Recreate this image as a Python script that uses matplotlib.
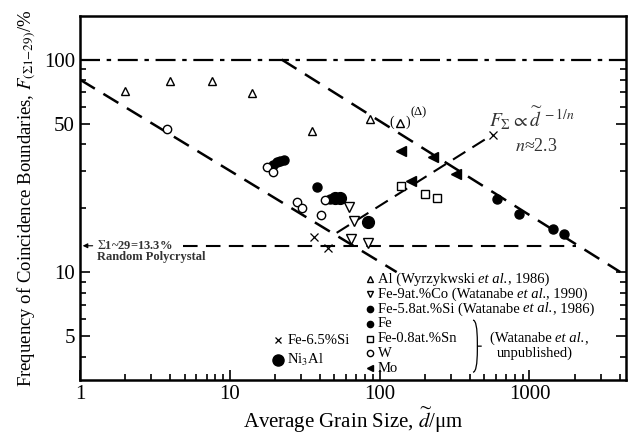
import matplotlib.pyplot as plt
import numpy as np
from matplotlib.path import Path
from matplotlib.patches import PathPatch

plt.rcParams["font.family"] = ["Liberation Serif", "DejaVu Serif"]
plt.rcParams["mathtext.fontset"] = "stix"

# --- data ---
al_x = [2.0, 4.0, 7.6, 14.0, 35.2, 85.8]
al_y = [71.4, 79.6, 79.0, 69.9, 46.2, 52.7]
al_paren = (136, 50.5)

feco_x = [62.1, 67.1, 64.0, 83.2]
feco_y = [20.3, 17.4, 14.3, 13.7]

fe_x = [19.4, 20.6, 21.5, 22.9, 38.0, 46.4, 612, 858, 1445, 1711]
fe_y = [32.0, 33.0, 33.4, 33.7, 25.2, 22.1, 22.1, 18.8, 16.0, 15.1]

ni3al_x = [50.1, 54.1, 83.2]
ni3al_y = [22.3, 22.3, 17.2]

fesn_x = [138, 200, 240]
fesn_y = [25.4, 23.4, 22.3]

w_x = [3.8, 17.6, 19.4, 28.0, 30.2, 40.4, 43.0]
w_y = [47.3, 31.3, 29.6, 21.4, 20.0, 18.6, 21.9]

mo_x = [140, 226, 326, 163]
mo_y = [37.3, 34.8, 29.0, 26.9]

fesi_x = [36.3, 45.0, 567]
fesi_y = [14.6, 13.0, 44.3]

# guide lines (end points)
low_line_x = [1.0, 130]
low_line_y = [80.5, 10.0]
high_line_x = [22.2, 4045]
high_line_y = [100, 10.0]
rise_line_x = [51.7, 567]
rise_line_y = [15.3, 44.3]
random_level = 13.3
random_line_x = [4.86, 2057]

legend_labels = [
    "Al (Wyrzykwski et al., 1986)",
    "Fe-9at.%Co (Watanabe et al., 1990)",
    "Fe-5.8at.%Si (Watanabe et al., 1986)",
    "Fe",
    "Fe-0.8at.%Sn",
    "W",
    "Mo",
]
legend_markers = ["^", "v", "o", "o", "s", "o", "<"]
legend_faces = ["white", "white", "black", "black", "white", "white", "black"]

fig = plt.figure(figsize=(6.29, 4.37), dpi=100)
ax = fig.add_axes([0.127, 0.130, 0.868, 0.833])
ax.set_xscale("log")
ax.set_yscale("log")
ax.set_xlim(1, 4400)
ax.set_ylim(3.1, 160)

dash = (0, (7, 4))
ax.axhline(100, color="black", lw=1.6, ls=(0, (9, 3, 2, 3)))
ax.plot(low_line_x, low_line_y, color="black", lw=1.8, ls=dash)
ax.plot(high_line_x, high_line_y, color="black", lw=1.8, ls=dash)
ax.plot(rise_line_x, rise_line_y, color="black", lw=1.5, ls=dash)
ax.plot(random_line_x, [random_level, random_level], color="black", lw=1.5, ls=dash)
ax.annotate("", xy=(1.0, random_level), xytext=(1.27, random_level),
            arrowprops=dict(arrowstyle="-|>", color="black", lw=0.8, mutation_scale=7))
ax.text(1.30, random_level, r"$\Sigma$1~29=13.3%", fontsize=9, fontweight="bold",
        va="center", ha="left", color="#333333")
ax.text(1.30, 11.8, "Random Polycrystal", fontsize=9, fontweight="bold",
        va="center", ha="left", color="#333333")

mk = dict(color="black", linestyle="none")
ax.plot(al_x, al_y, marker="^", ms=6, mfc="white", mew=1.0, **mk)
ax.plot(*al_paren, marker="^", ms=6, mfc="white", mew=1.0, **mk)
ax.annotate("(", al_paren, xytext=(-6, 0), textcoords="offset points",
            fontsize=10, ha="center", va="center")
ax.annotate(")", al_paren, xytext=(6, 0), textcoords="offset points",
            fontsize=10, ha="center", va="center")
ax.text(162, 53, "(Δ)", fontsize=9, ha="left", va="bottom")
ax.plot(feco_x, feco_y, marker="v", ms=7, mfc="white", mew=1.0, **mk)
ax.plot(fe_x, fe_y, marker="o", ms=6.5, mfc="black", **mk)
ax.plot(ni3al_x, ni3al_y, marker="o", ms=8.5, mfc="black", **mk)
ax.plot(fesn_x, fesn_y, marker="s", ms=6, mfc="white", mew=1.0, **mk)
ax.plot(w_x, w_y, marker="o", ms=6, mfc="white", mew=1.0, **mk)
ax.plot(mo_x, mo_y, marker="<", ms=6.5, mfc="black", **mk)
ax.plot(fesi_x, fesi_y, marker="x", ms=6, mew=0.9, **mk)

ax.text(540, 45.5, r"$F_{\Sigma}\propto\widetilde{d}^{\ -1/n}$", fontsize=14,
        ha="left", va="bottom", color="#333333")
ax.text(800, 39.0, r"$n$≈2.3", fontsize=13, ha="left", va="center", color="#333333")


def row_text(x, y, label, size=10.5):
    # "et al." set in italics, the rest upright
    if " et al." in label:
        head, tail = label.split(" et al.")
        t = ax.text(x, y, head + " ", fontsize=size, va="center", ha="left", transform=tr)
        t2 = ax.annotate("et al.", xy=(1, 0.5), xycoords=t, fontsize=size, va="center",
                         ha="left", style="italic")
        ax.annotate(tail, xy=(1, 0.5), xycoords=t2, fontsize=size, va="center", ha="left")
    else:
        ax.text(x, y, label, fontsize=size, va="center", ha="left", transform=tr)


# legend drawn as text rows (axes fraction)
tr = ax.transAxes
row_y = np.linspace(0.277, 0.033, len(legend_labels))
for marker, face, label, yv in zip(legend_markers, legend_faces, legend_labels, row_y):
    ax.plot(0.531, yv, marker=marker, ms=4.5, mfc=face, mew=1.0, transform=tr, **mk)
    row_text(0.546, yv, label)

bx, y0, y1 = 0.728, 0.022, 0.165
ym = 0.5 * (y0 + y1)
w = 0.008
verts = [(bx - w, y1), (bx, y1), (bx, ym + 0.01), (bx, ym),
         (bx, ym), (bx + w, ym), (bx, ym), (bx, ym - 0.01),
         (bx, y0), (bx - w, y0)]
codes = [Path.MOVETO, Path.CURVE3, Path.CURVE3, Path.LINETO,
         Path.MOVETO, Path.LINETO, Path.MOVETO, Path.LINETO,
         Path.CURVE3, Path.CURVE3]
ax.add_patch(PathPatch(Path(verts, codes), transform=tr, fill=False, lw=0.9, color="black"))
row_text(0.751, 0.115, "(Watanabe et al.,")
ax.text(0.764, 0.074, "unpublished)", fontsize=10.5, va="center", ha="left", transform=tr)

ax.plot(0.362, 0.110, marker="x", ms=5, mew=0.9, transform=tr, **mk)
ax.text(0.380, 0.110, "Fe-6.5%Si", fontsize=10.5, va="center", ha="left", transform=tr)
ax.plot(0.362, 0.055, marker="o", ms=8, mfc="black", transform=tr, **mk)
ax.text(0.380, 0.055, r"Ni$_3$Al", fontsize=10.5, va="center", ha="left", transform=tr)

ax.set_yticks([5, 10, 50, 100])
ax.set_yticklabels(["5", "10", "50", "100"])
ax.set_xticks([1, 10, 100, 1000])
ax.set_xticklabels(["1", "10", "100", "1000"])
ax.tick_params(which="both", direction="in", top=False, right=True, labelsize=15, width=1.2)
ax.tick_params(which="major", length=7)
ax.tick_params(which="minor", length=4)
ax.tick_params(axis="y", which="minor", labelleft=False)
for s in ax.spines.values():
    s.set_linewidth(1.8)

ax.set_xlabel(r"Average Grain Size, $\widetilde{d}$/μm", fontsize=15, labelpad=1)
ax.set_ylabel(r"Frequency of Coincidence Boundaries, $F_{(\Sigma1\mathrm{-}29)}$/%", fontsize=13.5)

fig.savefig("out.png", dpi=100)
